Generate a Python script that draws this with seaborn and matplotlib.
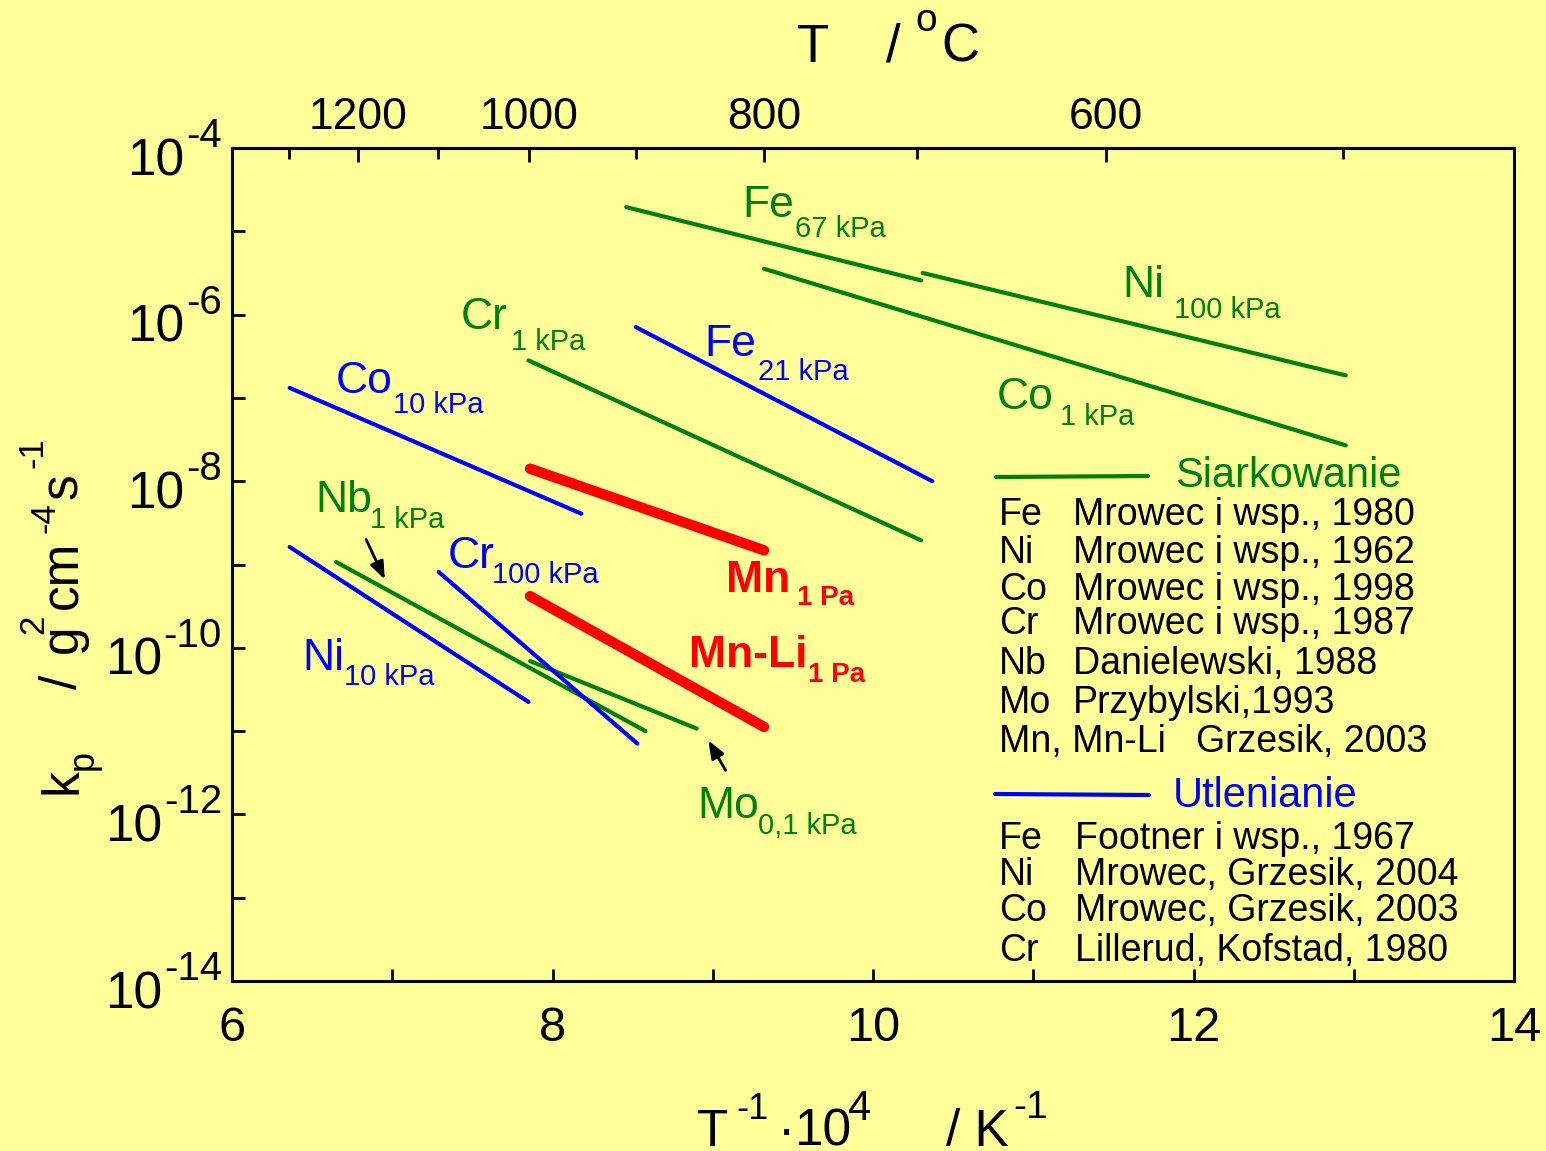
import numpy as np
import pandas as pd
import matplotlib
matplotlib.use("Agg")
import matplotlib.pyplot as plt
from matplotlib.ticker import FixedLocator, NullFormatter
from matplotlib.lines import Line2D
import seaborn as sns

# ── Data ─────────────────────────────────────────────────────
line_name = ["Fe 67 kPa", "Ni 100 kPa", "Co 1 kPa", "Cr 1 kPa", "Nb 1 kPa", "Mo 0,1 kPa",
             "Co 10 kPa", "Fe 21 kPa", "Ni 10 kPa", "Cr 100 kPa",
             "Mn 1 Pa", "Mn-Li 1 Pa"]
line_group = ["S", "S", "S", "S", "S", "S", "O", "O", "O", "O", "Mn", "Mn"]
inv_T_start = [8.46, 10.31, 9.32, 7.85, 6.65, 7.86, 6.36, 8.52, 6.36, 7.29, 7.86, 7.86]
inv_T_end = [10.30, 12.95, 12.95, 10.30, 8.58, 8.90, 8.18, 10.37, 7.85, 8.53, 9.32, 9.32]
log_kp_start = [-4.71, -5.50, -5.45, -6.55, -8.97, -10.16, -6.88, -6.15, -8.79, -9.09, -7.85, -9.38]
log_kp_end = [-5.59, -6.73, -7.57, -8.71, -11.00, -10.97, -8.39, -8.00, -10.65, -11.15, -8.83, -10.95]

y_major_exp = [-14, -12, -10, -8, -6, -4]
y_minor_exp = [-13, -11, -9, -7, -5]
top_major_C = [1200, 1000, 800, 600]
top_minor_C = [1300, 1100, 900, 700, 500]

refs_S = [("Fe", "Mrowec i wsp., 1980"), ("Ni", "Mrowec i wsp., 1962"),
          ("Co", "Mrowec i wsp., 1998"), ("Cr", "Mrowec i wsp., 1987"),
          ("Nb", "Danielewski, 1988"), ("Mo", "Przybylski,1993"),
          ("Mn, Mn-Li", "Grzesik, 2003")]
refs_O = [("Fe", "Footner i wsp., 1967"), ("Ni", "Mrowec, Grzesik, 2004"),
          ("Co", "Mrowec, Grzesik, 2003"), ("Cr", "Lillerud, Kofstad, 1980")]

rows = []
for name, g, x0, x1, y0, y1 in zip(line_name, line_group, inv_T_start, inv_T_end,
                                   log_kp_start, log_kp_end):
    rows.append({"line": name, "group": g, "inv_T": x0, "kp": 10.0 ** y0})
    rows.append({"line": name, "group": g, "inv_T": x1, "kp": 10.0 ** y1})
df = pd.DataFrame(rows)

GREEN, BLUE, RED = "#008000", "#0000FF", "#FF0000"
BG = "#FFFF99"

sns.set_theme(style="ticks", rc={"axes.facecolor": BG, "figure.facecolor": BG,
                                 "axes.edgecolor": "black", "axes.linewidth": 2.2,
                                 "text.color": "black", "xtick.color": "black",
                                 "ytick.color": "black"})
plt.rcParams["font.family"] = ["Liberation Sans", "DejaVu Sans"]

W, H = 1546, 1151
fig = plt.figure(figsize=(W / 100, H / 100), dpi=100)
ax = fig.add_axes([232 / W, 1 - 981 / H, (1514 - 232) / W, (981 - 148) / H])

sns.lineplot(data=df, x="inv_T", y="kp", hue="group", size="group", units="line",
             estimator=None, sort=True, legend=False, ax=ax,
             palette={"S": GREEN, "O": BLUE, "Mn": RED},
             sizes={"S": 3.0, "O": 3.0, "Mn": 7.5})

ax.set_yscale("log")
ax.set_xlim(6, 14)
ax.set_ylim(1e-14, 1e-4)
ax.set_xlabel("")
ax.set_ylabel("")

# ticks
ax.yaxis.set_major_locator(FixedLocator([10.0 ** e for e in y_major_exp]))
ax.yaxis.set_minor_locator(FixedLocator([10.0 ** e for e in y_minor_exp]))
ax.yaxis.set_major_formatter(NullFormatter())
ax.yaxis.set_minor_formatter(NullFormatter())
ax.xaxis.set_major_locator(FixedLocator([6, 8, 10, 12, 14]))
ax.xaxis.set_minor_locator(FixedLocator([7, 9, 11, 13]))
ax.tick_params(axis="both", which="both", direction="in", length=9, width=2,
               top=False, right=False, colors="black")
ax.tick_params(axis="x", which="major", labelsize=35, pad=18)

# y tick labels "10" + raised exponent (Origin style, hyphen minus)
EXP_PT, BASE_PT = 29, 37
for e in y_major_exp:
    s = "-%d" % (-e)
    w_exp = (0.333 + 0.556 * (len(s) - 1)) * EXP_PT * 100 / 72
    ax.annotate(s, xy=(0, 10.0 ** e), xycoords=("axes fraction", "data"),
                xytext=(-10, 1), textcoords="offset pixels", color="black",
                ha="right", va="baseline", fontsize=EXP_PT)
    ax.annotate("10", xy=(0, 10.0 ** e), xycoords=("axes fraction", "data"),
                xytext=(-10 - w_exp - 2, -27), textcoords="offset pixels", color="black",
                ha="right", va="baseline", fontsize=BASE_PT)

# top axis in Celsius
def inv_to_c(x):
    x = np.asarray(x, dtype=float)
    with np.errstate(divide="ignore", invalid="ignore"):
        return 1e4 / x - 273.15

def c_to_inv(t):
    t = np.asarray(t, dtype=float)
    with np.errstate(divide="ignore", invalid="ignore"):
        return 1e4 / (t + 273.15)

top = ax.secondary_xaxis("top", functions=(inv_to_c, c_to_inv))
top.xaxis.set_major_locator(FixedLocator(top_major_C))
top.xaxis.set_minor_locator(FixedLocator(top_minor_C))
top.xaxis.set_minor_formatter(NullFormatter())
top.tick_params(which="major", direction="in", length=10, width=2, labelsize=32, pad=7,
                colors="black")
top.tick_params(which="minor", direction="in", length=8, width=2, colors="black")
top.spines["top"].set_linewidth(2.2)

# text helpers (pixel positions from the top-left corner)
def ftext(px, py, s, color="black", size=26, weight="normal", rot=0):
    fig.text(px / W, 1 - py / H, s, color=color, fontsize=size, weight=weight,
             ha="left", va="baseline", rotation=rot, rotation_mode="anchor")

def tag(px, py, main, sx, sy, sub, color, size=32, subsize=21, weight="normal"):
    ftext(px, py, main, color, size, weight)
    ftext(sx, sy, sub, color, subsize, weight)

# labels on the lines
tag(742, 217, "Fe", 795, 237, "67 kPa", GREEN)
tag(1122, 297, "Ni", 1174, 318, "100 kPa", GREEN)
tag(997, 409, "Co", 1060, 425, "1 kPa", GREEN)
tag(461, 329, "Cr", 511, 350, "1 kPa", GREEN)
tag(315, 512, "Nb", 370, 528, "1 kPa", GREEN)
tag(697, 818, "Mo", 758, 834, "0,1 kPa", GREEN)
tag(336, 393, "Co", 393, 413, "10 kPa", BLUE)
tag(704, 356, "Fe", 758, 380, "21 kPa", BLUE)
tag(448, 568, "Cr", 492, 583, "100 kPa", BLUE)
tag(302, 670, "Ni", 344, 685, "10 kPa", BLUE)
tag(726, 592, "Mn", 797, 605, "1 Pa", RED, size=32, subsize=20, weight="bold")
tag(689, 667, "Mn-Li", 808, 682, "1 Pa", RED, size=32, subsize=20, weight="bold")

arrow = dict(arrowstyle="-|>,head_length=0.9,head_width=0.35", color="black", lw=2)
ax.annotate("", xy=(6.961, 10 ** -9.21), xytext=(6.83, 10 ** -8.67), arrowprops=arrow)
ax.annotate("", xy=(8.964, 10 ** -11.083), xytext=(9.089, 10 ** -11.50), arrowprops=arrow)

# legend block
fig.add_artist(Line2D([996 / W, 1148 / W], [1 - 477 / H, 1 - 476 / H], color=GREEN, lw=3))
ftext(1175, 487, "Siarkowanie", GREEN, 30)
for (el, ref), yb in zip(refs_S, [525, 563, 600, 634, 674, 713, 752]):
    ftext(999, yb, el, size=27)
    ftext(1196 if el.startswith("Mn,") else 1073, yb, ref, size=27)
fig.add_artist(Line2D([995 / W, 1149 / W], [1 - 794 / H, 1 - 795 / H], color=BLUE, lw=3))
ftext(1173, 807, "Utlenianie", BLUE, 30)
for (el, ref), yb in zip(refs_O, [849, 885, 921, 961]):
    ftext(999, yb, el, size=27)
    ftext(1075, yb, ref, size=27)

# y axis title (rotated pieces)
ftext(77, 794, "k", size=37, rot=90)
ftext(93, 770, "p", size=26, rot=90)
ftext(77, 689, "/", size=37, rot=90)
ftext(77, 653, "g", size=37, rot=90)
ftext(43, 634, "2", size=25, rot=90)
ftext(77, 609, "cm", size=37, rot=90)
ftext(55, 533, "-4", size=25, rot=90)
ftext(77, 499, "s", size=37, rot=90)
ftext(43, 468, "-1", size=25, rot=90)

# x axis title
ftext(697, 1146, "T", size=37)
ftext(736, 1119, "-1", size=26)
ftext(778, 1146, "\u00b7", size=37)
ftext(794, 1146, "10", size=37)
ftext(848, 1120, "4", size=30)
ftext(946, 1146, "/ K", size=37)
ftext(1013, 1118, "-1", size=28)

# top axis title
ftext(797, 62, "T", size=38)
ftext(886, 62, "/", size=38)
ftext(915, 31, "o", size=28)
ftext(941, 62, "C", size=38)

fig.savefig("out.png", dpi=100, facecolor=BG)
